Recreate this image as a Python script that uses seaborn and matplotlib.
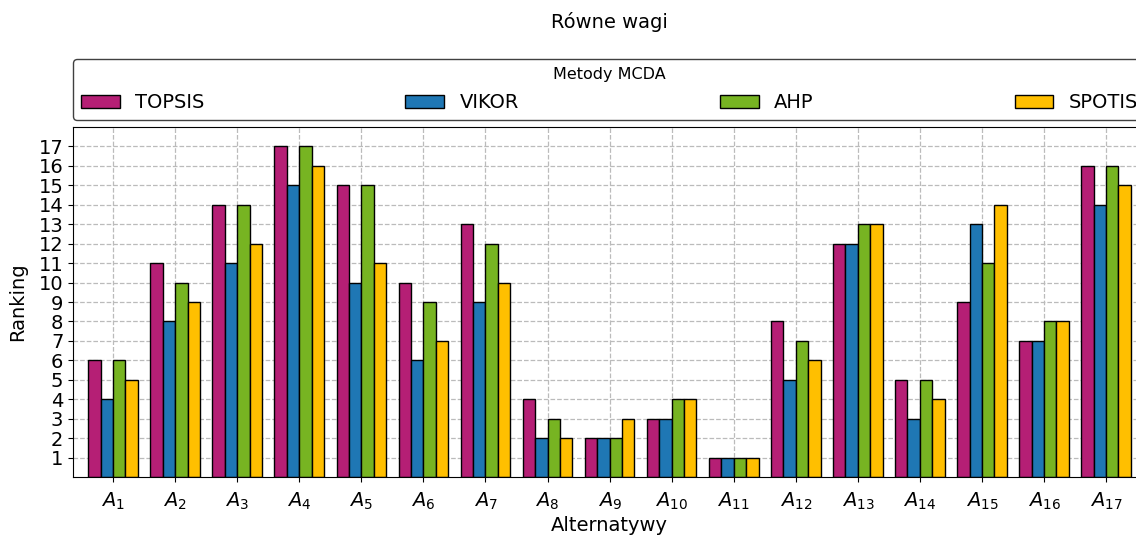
import numpy as np
import pandas as pd
import matplotlib
matplotlib.use("Agg")
import matplotlib.pyplot as plt
import seaborn as sns

# Rankings of 17 alternatives under equal criteria weights
alternatives = [f"$A_{{{i}}}$" for i in range(1, 18)]
methods = ["TOPSIS", "VIKOR", "AHP", "SPOTIS"]
topsis = [6, 11, 14, 17, 15, 10, 13, 4, 2, 3, 1, 8, 12, 5, 9, 7, 16]
vikor = [4, 8, 11, 15, 10, 6, 9, 2, 2, 3, 1, 5, 12, 3, 13, 7, 14]
ahp = [6, 10, 14, 17, 15, 9, 12, 3, 2, 4, 1, 7, 13, 5, 11, 8, 16]
spotis = [5, 9, 12, 16, 11, 7, 10, 2, 3, 4, 1, 6, 13, 4, 14, 8, 15]
colors = ["#B51F75", "#1F77B4", "#77B422", "#FFBF00"]

rows = []
for name, vals in zip(methods, [topsis, vikor, ahp, spotis]):
    for alt, v in zip(alternatives, vals):
        rows.append({"Alternatywa": alt, "Metoda": name, "Ranking": v})
df = pd.DataFrame(rows)

fig = plt.figure(figsize=(11.36, 5.37), dpi=100)
ax = fig.add_axes([0.0643, 0.1117, 0.9446, 0.6518])

sns.barplot(data=df, x="Alternatywa", y="Ranking", hue="Metoda",
            order=alternatives, hue_order=methods, palette=colors,
            edgecolor="black", linewidth=1, saturation=1, width=0.8,
            ax=ax)

ax.set_axisbelow(True)
ax.grid(True, linestyle="--", color="#bbbbbb", linewidth=0.9)
ax.set_ylim(0, 18)
ax.set_xlim(-0.645, 16.645)
ax.set_yticks(range(1, 18))
ax.tick_params(axis="both", labelsize=14)
ax.tick_params(axis="x", pad=6)
ax.set_xlabel("Alternatywy", fontsize=14, labelpad=3)
ax.set_ylabel("Ranking", fontsize=14, labelpad=8)

leg = ax.legend(title="Metody MCDA", ncol=4, mode="expand", loc="lower left",
                bbox_to_anchor=(0, 1.02, 1, 0.2), fontsize=14,
                title_fontsize=11.5, borderaxespad=0, framealpha=1,
                borderpad=0.4)
leg.get_frame().set_edgecolor("0.25")
leg._legend_box.sep = 8

ax.text(0.5, 1.3, "Równe wagi", transform=ax.transAxes, ha="center",
        va="center", fontsize=14)

fig.savefig("out.png", dpi=100)
